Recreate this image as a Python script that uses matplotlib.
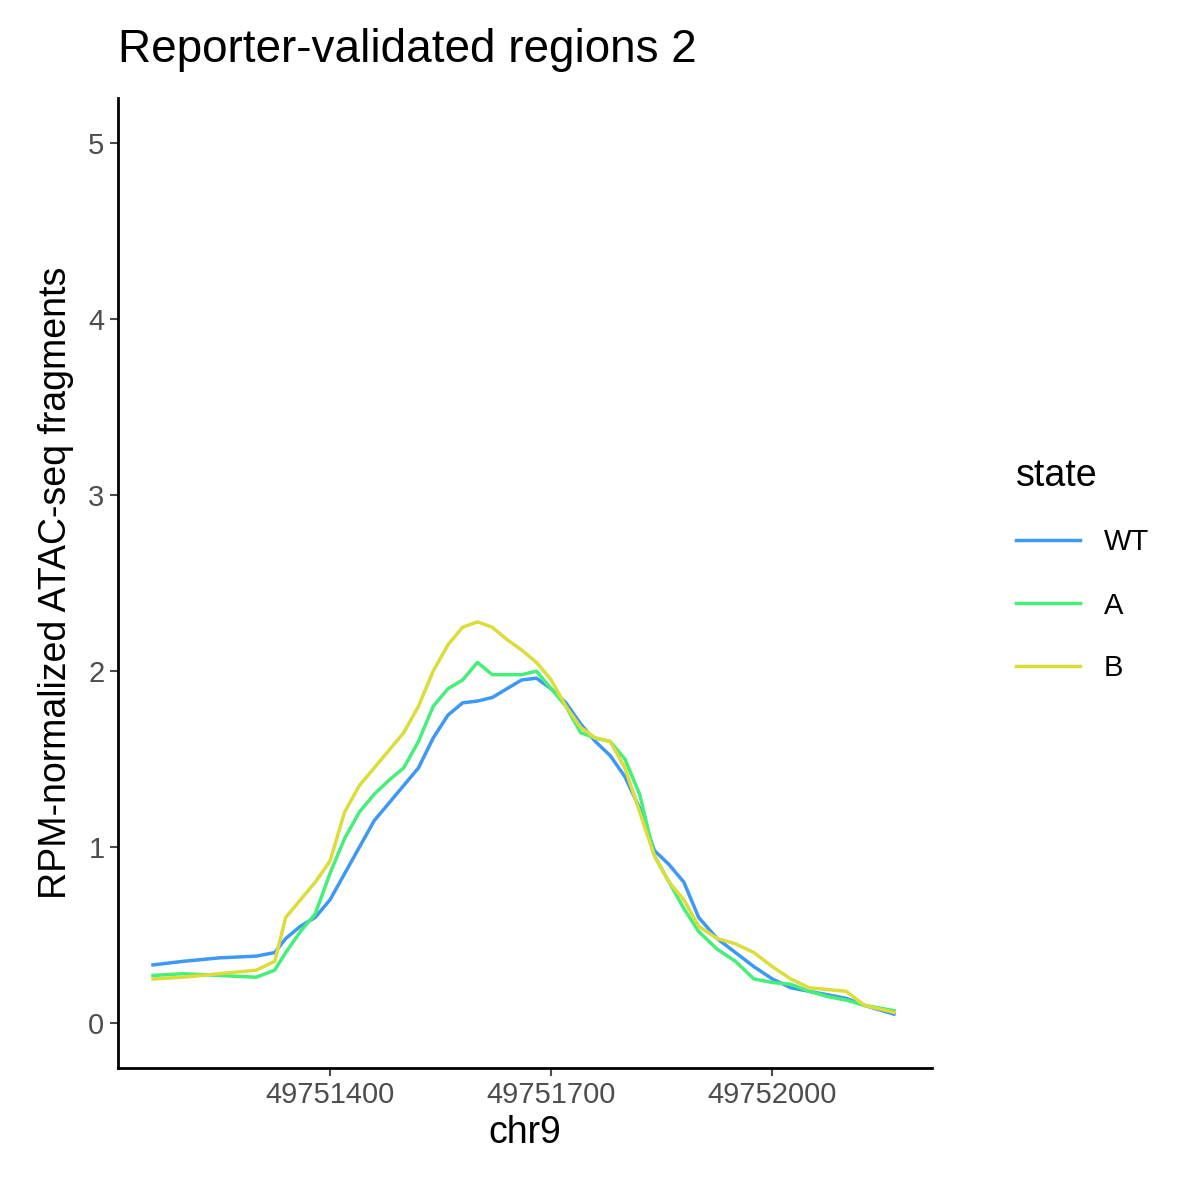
import numpy as np
import matplotlib.pyplot as plt

plt.rcParams['font.family'] = ['Liberation Sans', 'DejaVu Sans']

pos = [49751160, 49751200, 49751250, 49751300, 49751325, 49751340, 49751360,
       49751380, 49751400, 49751420, 49751440, 49751460, 49751480, 49751500,
       49751520, 49751540, 49751560, 49751580, 49751600, 49751620, 49751640,
       49751660, 49751680, 49751700, 49751720, 49751740, 49751760, 49751780,
       49751800, 49751820, 49751840, 49751860, 49751880, 49751900, 49751925,
       49751950, 49751975, 49752000, 49752025, 49752050, 49752075, 49752100,
       49752125, 49752165]
wt = [0.33, 0.35, 0.37, 0.38, 0.40, 0.48, 0.55, 0.60, 0.70, 0.85, 1.00, 1.15,
      1.25, 1.35, 1.45, 1.62, 1.75, 1.82, 1.83, 1.85, 1.90, 1.95, 1.96, 1.90,
      1.82, 1.70, 1.60, 1.52, 1.40, 1.22, 0.98, 0.90, 0.80, 0.60, 0.48, 0.40,
      0.32, 0.25, 0.20, 0.18, 0.16, 0.14, 0.10, 0.05]
a = [0.27, 0.28, 0.27, 0.26, 0.30, 0.40, 0.52, 0.62, 0.85, 1.05, 1.20, 1.30,
     1.38, 1.45, 1.60, 1.80, 1.90, 1.95, 2.05, 1.98, 1.98, 1.98, 2.00, 1.90,
     1.80, 1.65, 1.62, 1.60, 1.50, 1.30, 0.95, 0.80, 0.65, 0.52, 0.42, 0.35,
     0.25, 0.23, 0.22, 0.18, 0.15, 0.13, 0.10, 0.07]
b = [0.25, 0.26, 0.28, 0.30, 0.35, 0.60, 0.70, 0.80, 0.92, 1.20, 1.35, 1.45,
     1.55, 1.65, 1.80, 2.00, 2.15, 2.25, 2.28, 2.25, 2.18, 2.12, 2.05, 1.95,
     1.80, 1.68, 1.62, 1.60, 1.45, 1.20, 0.95, 0.80, 0.70, 0.55, 0.48, 0.45,
     0.40, 0.32, 0.25, 0.20, 0.19, 0.18, 0.10, 0.06]
states = ['WT', 'A', 'B']
colors = ['#3d99f5', '#45ef7a', '#dcdc3a']

fig = plt.figure(figsize=(12, 12), dpi=100)
ax = fig.add_axes([0.098, 0.11, 0.679, 0.808])
for ys, lab, col in zip([wt, a, b], states, colors):
    ax.plot(pos, ys, color=col, lw=2.5, label=lab)
ax.set_xlim(49751112, 49752217)
ax.set_ylim(-0.256, 5.256)
ax.set_xticks([49751400, 49751700, 49752000])
ax.set_xticklabels(['49751400', '49751700', '49752000'])
ax.set_yticks([0, 1, 2, 3, 4, 5])
for s in ['top', 'right']:
    ax.spines[s].set_visible(False)
for s in ['left', 'bottom']:
    ax.spines[s].set_linewidth(2)
ax.tick_params(labelsize=21, colors='#4d4d4d', width=1.5, length=6)
ax.set_xlabel('chr9', fontsize=27, labelpad=4)
ax.set_ylabel('RPM-normalized ATAC-seq fragments', fontsize=27, labelpad=10)
ax.set_title('Reporter-validated regions 2', fontsize=33, loc='left', x=0.0, pad=26)
leg = fig.legend(loc='center left', bbox_to_anchor=(0.825, 0.525), frameon=False,
                 fontsize=21, title='state', title_fontsize=27,
                 handlelength=2.2, labelspacing=1.2, alignment='left')
plt.savefig('out.png')
